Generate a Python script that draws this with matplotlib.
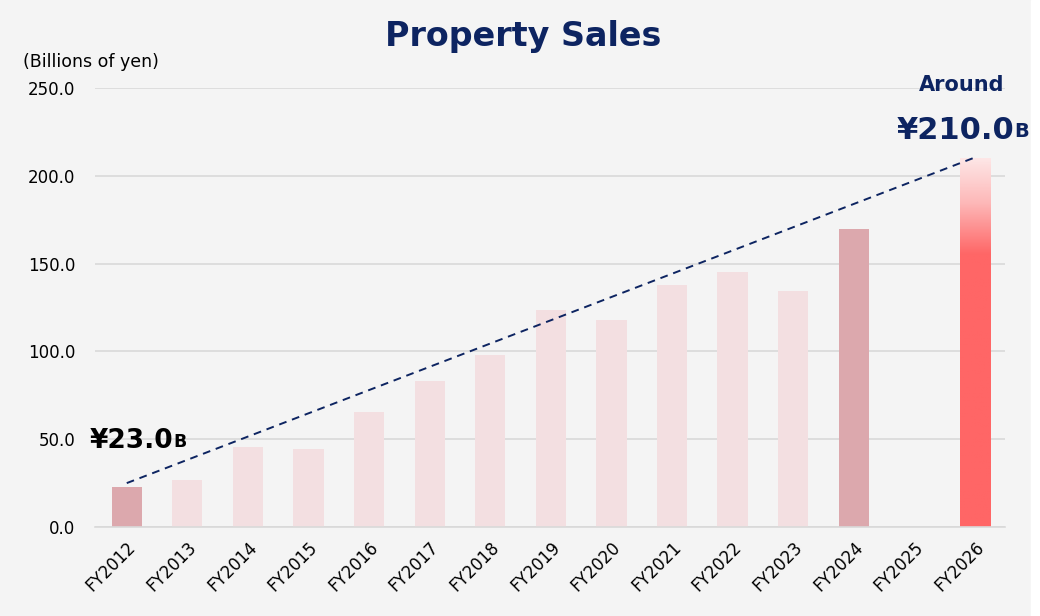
import numpy as np
import matplotlib.pyplot as plt
from matplotlib.colors import LinearSegmentedColormap
from matplotlib.patches import Rectangle

# data
years = ['FY2012', 'FY2013', 'FY2014', 'FY2015', 'FY2016', 'FY2017', 'FY2018', 'FY2019',
         'FY2020', 'FY2021', 'FY2022', 'FY2023', 'FY2024', 'FY2025', 'FY2026']
sales = [23.0, 27.0, 45.5, 44.5, 65.5, 83.0, 98.0, 123.5, 118.0, 138.0, 145.5, 134.5, 170.0, 0.0, 210.0]
yticks = [0, 50, 100, 150, 200, 250]
trend_start = 25.0
trend_end = 210.5

bg = '#f4f4f4'
navy = '#0d2461'
light = '#f3dfe1'
dark = '#dca8ad'
red = '#ff6666'

fig = plt.figure(figsize=(10.4, 6.16), dpi=100, facecolor=bg)
# white strip at the right edge, as in the source slide
fig.patches.append(Rectangle((0.991, 0), 0.01, 1, transform=fig.transFigure, color='white', zorder=-1))
ax = fig.add_axes([0.091, 0.1445, 0.875, 0.7125], facecolor=bg)

x = np.arange(len(years))
colors = [light] * len(years)
colors[0] = dark
colors[12] = dark
colors[14] = 'none'
bars = ax.bar(x, sales, width=0.5, color=colors, zorder=2)

# gradient on the last bar (solid red at the bottom, fading towards the top)
b = bars[14]
cmap = LinearSegmentedColormap.from_list('g', [(0, red), (0.74, red), (0.88, '#fdb8b8'), (1.0, '#fde6e6')])
grad = np.linspace(0, 1, 256).reshape(-1, 1)
im = ax.imshow(grad, cmap=cmap, origin='lower', aspect='auto',
               extent=[b.get_x(), b.get_x() + b.get_width(), 0, sales[14]], zorder=2)
im.set_clip_path(b)

# dashed trend line
ax.plot([0, 14], [trend_start, trend_end], ls=(0, (4, 3)), color=navy, lw=1.4, zorder=3)

ax.set_ylim(0, 250)
ax.set_xlim(-0.53, 14.49)
ax.set_yticks(yticks)
ax.set_yticklabels(['%.1f' % v for v in yticks], fontsize=12)
ax.set_xticks(x)
ax.set_xticklabels(years, rotation=45, ha='right', rotation_mode='anchor', fontsize=12)
ax.tick_params(length=0, pad=8)
ax.tick_params(axis='y', pad=14)
ax.grid(axis='y', color='#d9d9d9', lw=1.2, zorder=0)
for s in ['top', 'right', 'left']:
    ax.spines[s].set_visible(False)
ax.spines['bottom'].set_color('#d9d9d9')
ax.spines['bottom'].set_linewidth(1.2)

fig.text(0.503, 0.94, 'Property Sales', ha='center', va='center',
         fontsize=24, fontweight='bold', color=navy)
fig.text(0.022, 0.90, '(Billions of yen)', ha='left', va='center', fontsize=12.5)

# annotations
t1 = ax.text(-0.61, 49, '¥23.0', fontsize=19, fontweight='bold', color='black',
             ha='left', va='center', zorder=4)
ax.annotate('B', xy=(1, 0.12), xycoords=t1, fontsize=12.5, fontweight='bold',
            color='black', ha='left', va='bottom', zorder=4)
ax.text(14.49, 252, 'Around', fontsize=15, fontweight='bold', color=navy,
        ha='right', va='center', zorder=4)
t2 = ax.text(12.7, 226, '¥210.0', fontsize=22, fontweight='bold', color=navy,
             ha='left', va='center', zorder=4)
ax.annotate('B', xy=(1, 0.12), xycoords=t2, fontsize=14, fontweight='bold',
            color=navy, ha='left', va='bottom', zorder=4, annotation_clip=False)

fig.savefig('out.png', dpi=100, facecolor=bg)
